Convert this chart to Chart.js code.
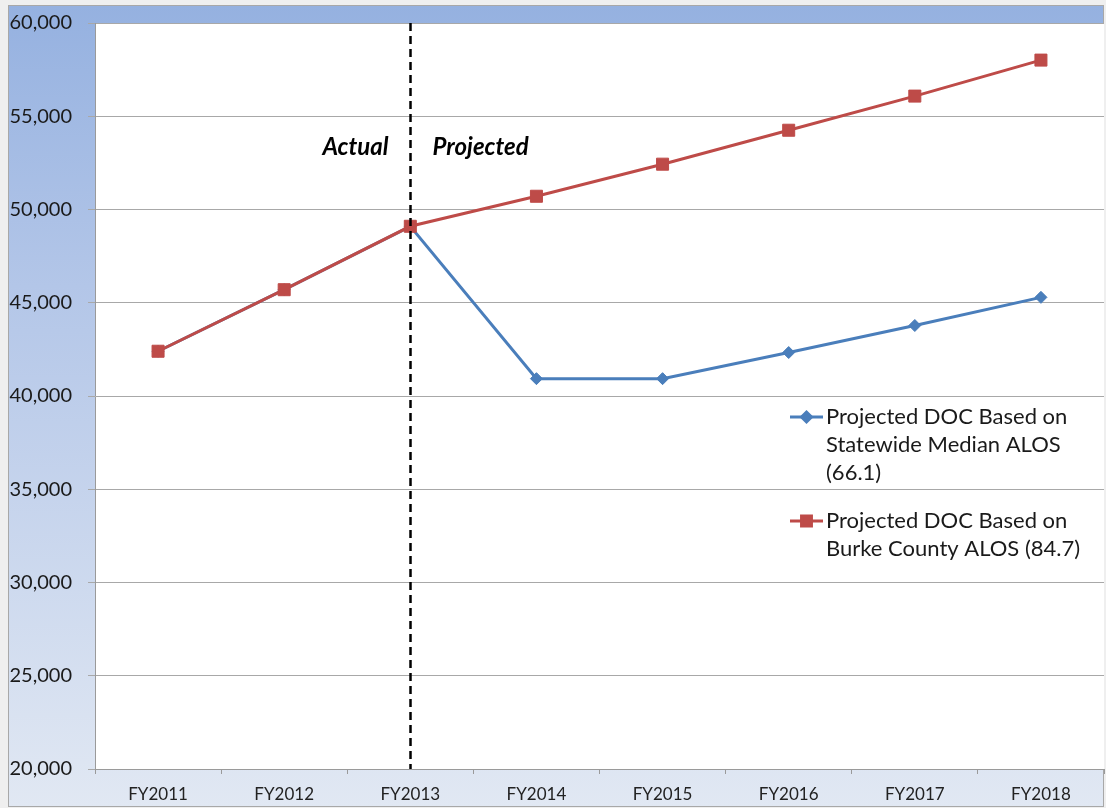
<!DOCTYPE html>
<html><head><meta charset="utf-8">
<script src="https://cdn.jsdelivr.net/npm/chart.js@4/dist/chart.umd.min.js"></script>
<style>html,body{margin:0;padding:0;background:#f0f0f0;}canvas{display:block;}</style>
</head><body>
<canvas id="c" width="1106" height="808" style="width:1106px;height:808px"></canvas>
<script>
const categories = ['FY2011','FY2012','FY2013','FY2014','FY2015','FY2016','FY2017','FY2018'];
const statewideValues = [42400, 45700, 49100, 40930, 40930, 42330, 43780, 45290];
const burkeValues = [42400, 45700, 49100, 50710, 52430, 54250, 56080, 58010];
const legendStatewide = ['Projected DOC Based on', 'Statewide Median ALOS', '(66.1)'];
const legendBurke = ['Projected DOC Based on', 'Burke County ALOS (84.7)'];
const yTicks = [20000, 25000, 30000, 35000, 40000, 45000, 50000, 55000, 60000];
const splitIndex = 2;
const annotationY = 53340;

const FONT = 'Lato, "Open Sans", sans-serif';
const BLUE = '#4a7ebb';
const RED = '#be4b48';

const framePlugin = {
  id: 'frame',
  beforeDraw(chart) {
    const ctx = chart.ctx, a = chart.chartArea;
    ctx.save();
    ctx.fillStyle = '#efefef';
    ctx.fillRect(0, 0, chart.width, chart.height);
    const g = ctx.createLinearGradient(0, 5, 0, 807);
    g.addColorStop(0, '#95b1e0');
    g.addColorStop(0.35, '#b3c6e8');
    g.addColorStop(1, '#e1e8f3');
    ctx.fillStyle = g;
    ctx.fillRect(8, 5, 1096, 802);
    ctx.strokeStyle = '#a8a8a8';
    ctx.lineWidth = 1;
    ctx.strokeRect(8.5, 5.5, 1095, 801);
    ctx.fillStyle = '#ffffff';
    ctx.fillRect(a.left, a.top, a.right - a.left, a.bottom - a.top);
    ctx.restore();
  },
  afterDatasetsDraw(chart) {
    const ctx = chart.ctx, a = chart.chartArea;
    const xs = chart.scales.x, ys = chart.scales.y;
    const x = Math.round(xs.getPixelForValue(splitIndex)) + 0.5;
    ctx.save();
    ctx.strokeStyle = '#000';
    ctx.lineWidth = 2.5;
    ctx.setLineDash([8, 5]);
    ctx.beginPath();
    ctx.moveTo(x, a.top);
    ctx.lineTo(x, a.bottom);
    ctx.stroke();
    ctx.setLineDash([]);
    ctx.font = 'italic bold 24px ' + FONT;
    ctx.fillStyle = '#000';
    ctx.textBaseline = 'middle';
    const ty = ys.getPixelForValue(annotationY);
    ctx.textAlign = 'right';
    ctx.fillText('Actual', x - 22, ty);
    ctx.textAlign = 'left';
    ctx.fillText('Projected', x + 22, ty);

    // legend
    const lx = a.right - 314;
    const tx = lx + 36;
    ctx.font = '22px ' + FONT;
    ctx.textBaseline = 'middle';
    ctx.textAlign = 'left';
    const drawEntry = (lines, y0, color, style, r) => {
      ctx.strokeStyle = color;
      ctx.fillStyle = color;
      ctx.lineWidth = 3;
      ctx.beginPath();
      ctx.moveTo(lx, y0);
      ctx.lineTo(lx + 33, y0);
      ctx.stroke();
      Chart.helpers.drawPoint(ctx, {pointStyle: style, radius: r, borderWidth: 1}, lx + 16.5, y0);
      ctx.fillStyle = '#1a1a1a';
      lines.forEach((t, i) => ctx.fillText(t, tx, y0 + i * 28));
    };
    drawEntry(legendStatewide, 417, BLUE, 'rectRot', 5);
    drawEntry(legendBurke, 521, RED, 'rect', 7);
    ctx.restore();
  }
};

new Chart(document.getElementById('c'), {
  type: 'line',
  data: {
    labels: categories,
    datasets: [
      {
        label: legendBurke.join(' '),
        data: burkeValues,
        borderColor: RED, backgroundColor: RED,
        borderWidth: 3, pointStyle: 'rect', pointRadius: 8.5,
        pointBorderColor: RED, pointBackgroundColor: RED, pointBorderWidth: 1,
        tension: 0, order: 0
      },
      {
        label: legendStatewide.join(' '),
        data: statewideValues,
        borderColor: BLUE, backgroundColor: BLUE,
        borderWidth: 3, pointStyle: 'rectRot', pointRadius: 6,
        pointBorderColor: BLUE, pointBackgroundColor: BLUE, pointBorderWidth: 1,
        tension: 0, order: 1
      }
    ]
  },
  options: {
    responsive: false,
    animation: false,
    devicePixelRatio: 1,
    layout: { autoPadding: false, padding: { top: 23, right: 2, left: 0, bottom: 0 } },
    plugins: { legend: { display: false }, tooltip: { enabled: false } },
    scales: {
      x: {
        offset: true,
        grid: { display: true, drawOnChartArea: false, offset: true, tickLength: 5, color: '#9a9a9a' },
        border: { color: '#9a9a9a', width: 1 },
        ticks: { font: { family: FONT, size: 17 }, color: '#222', padding: 10, maxRotation: 0 },
        afterFit(s) { s.height = 39; s.paddingLeft = 0; s.paddingRight = 0; }
      },
      y: {
        min: 20000, max: 60000,
        afterBuildTicks(s) { s.ticks = yTicks.map(v => ({ value: v })); },
        grid: { color: '#a8a8a8', tickLength: 7, lineWidth: 1 },
        border: { color: '#9a9a9a', width: 1 },
        ticks: {
          font: { family: FONT, size: 20 }, color: '#1a1a1a', padding: 16,
          callback: v => v.toLocaleString('en-US')
        },
        afterFit(s) { s.width = 95; s.paddingTop = 0; s.paddingBottom = 0; }
      }
    }
  },
  plugins: [framePlugin]
});
</script>
</body></html>
